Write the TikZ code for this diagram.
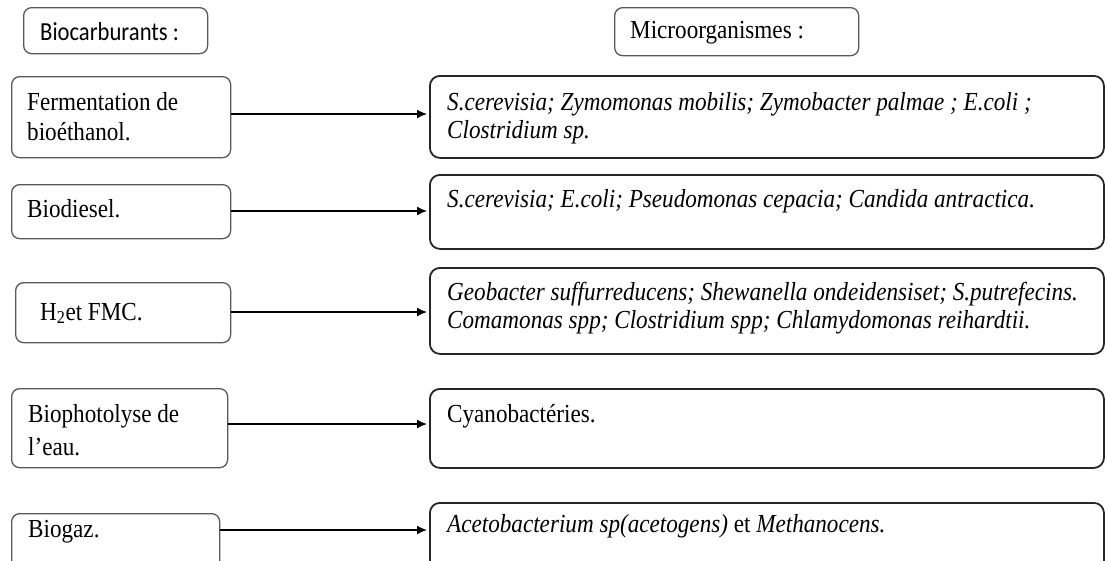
\documentclass[tikz,border=0pt]{standalone}
\usepackage{fontspec}
\setmainfont[FakeStretch=0.89]{Liberation Serif}
\newfontfamily\headsans[FakeStretch=0.87]{Carlito}
\usetikzlibrary{arrows.meta}

\tikzset{
  lbox/.style={draw=black!65, line width=1.3pt, rounded corners=8pt,
    inner sep=0pt, anchor=north west},
  rbox/.style={draw=black!85, line width=1.8pt, rounded corners=10pt,
    inner sep=0pt, anchor=north west},
  txt/.style={anchor=base west, inner sep=0pt, text=black,
    font=\fontsize{26}{30}\selectfont},
  itxt/.style={txt, font=\fontsize{26}{30}\selectfont\itshape},
  hsans/.style={txt, font=\fontsize{26}{30}\selectfont\headsans},
  link/.style={-{Latex[length=10pt,width=9pt]}, line width=1.5pt, shorten >=2pt},
}

\begin{document}
\begin{tikzpicture}[x=1pt, y=-1pt]
\useasboundingbox (0,0) rectangle (1107,560);
\clip (0,0) rectangle (1107,560);

% column headers
\node[lbox, minimum width=184pt, minimum height=46pt] (hl) at (23,7) {};
\node[hsans] (hlt) at (40,40) {Biocarburants :};
\node[lbox, minimum width=244pt, minimum height=48pt] (hr) at (614,7) {};
\node[txt] (hrt) at (630,38) {Microorganismes :};

% biofuel boxes
\node[lbox, minimum width=219pt, minimum height=81pt] (l1) at (11,76) {};
\node[txt] (l1a) at (27,110) {Fermentation de};
\node[txt] (l1b) at (27,140) {bioéthanol.};

\node[lbox, minimum width=219pt, minimum height=54pt] (l2) at (11,184) {};
\node[txt] (l2a) at (27,217) {Biodiesel.};

\node[lbox, minimum width=215pt, minimum height=60pt] (l3) at (15,282) {};
\node[txt] (l3a) at (40,320) {H\textsubscript{2}et FMC.};

\node[lbox, minimum width=216pt, minimum height=79pt] (l4) at (11,388) {};
\node[txt] (l4a) at (28,422) {Biophotolyse de};
\node[txt] (l4b) at (28,455) {l’eau.};

\node[lbox, minimum width=208pt, minimum height=70pt] (l5) at (11,513) {};
\node[txt] (l5a) at (28,537) {Biogaz.};

% microorganism boxes
\node[rbox, minimum width=674pt, minimum height=82pt] (r1) at (429,75) {};
\node[itxt] (r1a) at (447,110) {S.cerevisia; Zymomonas mobilis; Zymobacter palmae ; E.coli ;};
\node[itxt] (r1b) at (447,138) {Clostridium sp.};

\node[rbox, minimum width=674pt, minimum height=74pt] (r2) at (429,174) {};
\node[itxt] (r2a) at (447,207) {S.cerevisia; E.coli; Pseudomonas cepacia; Candida antractica.};

\node[rbox, minimum width=674pt, minimum height=86pt] (r3) at (429,267) {};
\node[itxt] (r3a) at (447,300) {Geobacter suffurreducens; Shewanella ondeidensiset; S.putrefecins.};
\node[itxt] (r3b) at (447,328) {Comamonas spp; Clostridium spp; Chlamydomonas reihardtii.};

\node[rbox, minimum width=674pt, minimum height=79pt] (r4) at (429,388) {};
\node[txt] (r4a) at (447,422) {Cyanobactéries.};

\node[rbox, minimum width=674pt, minimum height=80pt] (r5) at (429,502) {};
\node[txt] (r5a) at (447,532) {\textit{Acetobacterium sp(acetogens)} et \textit{Methanocens.}};

% connectors
\draw[link] (l1.east |- 0,114) -- (r1.west |- 0,114);
\draw[link] (l2.east |- 0,211) -- (r2.west |- 0,211);
\draw[link] (l3.east |- 0,312) -- (r3.west |- 0,312);
\draw[link] (l4.east |- 0,424) -- (r4.west |- 0,424);
\draw[link] (l5.east |- 0,530) -- (r5.west |- 0,530);
\end{tikzpicture}
\end{document}
